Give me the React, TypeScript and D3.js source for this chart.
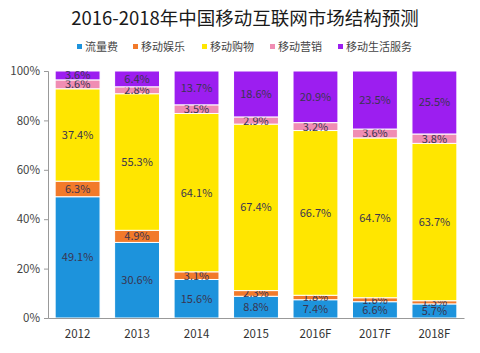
import { useRef, useEffect } from 'react';
import * as d3 from 'd3';

const years = ['2012', '2013', '2014', '2015', '2016F', '2017F', '2018F'];
const seriesNames = ['流量费', '移动娱乐', '移动购物', '移动营销', '移动生活服务'];
const traffic = [49.1, 30.6, 15.6, 8.8, 7.4, 6.6, 5.7];
const entertainment = [6.3, 4.9, 3.1, 2.3, 1.8, 1.6, 1.3];
const shopping = [37.4, 55.3, 64.1, 67.4, 66.7, 64.7, 63.7];
const marketing = [3.6, 2.8, 3.5, 2.9, 3.2, 3.6, 3.8];
const lifeService = [3.6, 6.4, 13.7, 18.6, 20.9, 23.5, 25.5];
const yTicks = [0, 20, 40, 60, 80, 100];
const colors = ['#1d93dc', '#f27a2a', '#ffe600', '#f08db3', '#9c1ef0'];

const FONT = '"Noto Sans CJK SC", "Noto Sans", sans-serif';

export default function App() {
  const svgRef = useRef(null);

  useEffect(() => {
    const svg = d3.select(svgRef.current);
    svg.selectAll('*').remove();

    const allSeries = [traffic, entertainment, shopping, marketing, lifeService];
    const table = years.map((y, i) => {
      const row: any = { year: y };
      seriesNames.forEach((n, k) => (row[n] = allSeries[k][i]));
      return row;
    });
    const stacked = d3.stack().keys(seriesNames)(table);

    const margin = { top: 71, bottom: 35, left: 48, right: 16 };
    const width = 480 - margin.left - margin.right;
    const height = 353 - margin.top - margin.bottom;

    const x = d3.scaleBand().domain(years).range([0, width]).paddingInner(0.245).paddingOuter(0.12);
    const y = d3.scaleLinear().domain([0, 100]).range([height, 0]);

    svg.append('text')
      .attr('x', 245).attr('y', 25)
      .attr('text-anchor', 'middle')
      .attr('font-family', FONT)
      .attr('font-size', 18.5)
      .attr('font-weight', 'normal')
      .attr('fill', '#1a1a1a')
      .text('2016-2018年中国移动互联网市场结构预测');

    // legend
    const legendX = [77, 133, 202, 270, 338];
    const legend = svg.append('g').attr('font-family', FONT).attr('font-size', 11);
    seriesNames.forEach((n, k) => {
      legend.append('rect').attr('x', legendX[k]).attr('y', 44).attr('width', 5).attr('height', 5).attr('fill', colors[k]);
      legend.append('text').attr('x', legendX[k] + 8).attr('y', 51).attr('fill', '#444').text(n);
    });

    const g = svg.append('g').attr('transform', `translate(${margin.left},${margin.top})`);

    const layers = g.selectAll('.layer').data(stacked).enter().append('g')
      .attr('fill', (d, k) => colors[k]);

    layers.selectAll('rect').data((d) => d).enter().append('rect')
      .attr('x', (d: any) => x(d.data.year))
      .attr('y', (d) => y(d[1]))
      .attr('width', x.bandwidth())
      .attr('height', (d) => y(d[0]) - y(d[1]))
      .attr('stroke', '#fff')
      .attr('stroke-width', 1);

    layers.selectAll('text').data((d) => d.map((v) => ({ v, key: d.key }))).enter().append('text')
      .attr('x', (d: any) => x(d.v.data.year) + x.bandwidth() / 2)
      .attr('y', (d: any) => (y(d.v[0]) + y(d.v[1])) / 2 + 4)
      .attr('text-anchor', 'middle')
      .attr('font-family', FONT)
      .attr('font-size', 11)
      .attr('fill', '#3a3550')
      .text((d: any) => `${d.v.data[d.key]}%`);

    // axes
    const yAxis = d3.axisLeft(y).tickValues(yTicks).tickFormat((d) => `${d}%`).tickSize(4);
    const ya = g.append('g').call(yAxis);
    ya.select('.domain').attr('stroke', '#999');
    ya.selectAll('line').attr('stroke', '#999');
    ya.selectAll('text').attr('font-family', FONT).attr('font-size', 11.5).attr('fill', '#444').attr('x', -8);

    const xAxis = d3.axisBottom(x).tickSize(0).tickPadding(12);
    const xa = g.append('g').attr('transform', `translate(0,${height})`).call(xAxis);
    xa.select('.domain').attr('stroke', '#999');
    xa.selectAll('text').attr('font-family', FONT).attr('font-size', 11.5).attr('fill', '#333');
  }, []);

  return (
    <svg ref={svgRef} width={480} height={353} style={{ position: 'absolute', left: 0, top: 0, background: '#fff' }} />
  );
}
